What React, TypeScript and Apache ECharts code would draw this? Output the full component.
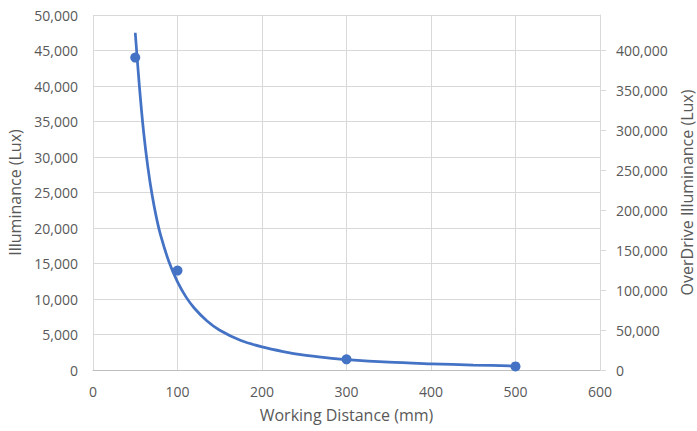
import React, { useEffect, useRef } from "react";
import * as echarts from "echarts";

// Measured points: working distance (mm) vs illuminance (lux)
const pointX = [50, 100, 300, 500];
const pointY = [44000, 14000, 1500, 500];

// Trend curve
const curveX = [50, 55, 60, 65, 70, 75, 80, 90, 100, 110, 120, 135, 150, 175, 200, 225, 250, 275, 300, 350, 400, 450, 500];
const curveY = [47500, 39800, 33400, 28500, 24600, 21500, 19000, 15200, 12400, 10300, 8700, 6900, 5600, 4150, 3250, 2600, 2100, 1750, 1470, 1100, 880, 700, 560];

const xTitle = "Working Distance (mm)";
const yLeftTitle = "Illuminance (Lux)";
const yRightTitle = "OverDrive Illuminance (Lux)";

const BLUE = "#4472C4";
const TEXT = "#595959";
const GRID = "#d9d9d9";
const FONT = "Open Sans";

const fmt = (v: number) => v.toLocaleString("en-US");

export default function App() {
  const ref = useRef<HTMLDivElement>(null);
  useEffect(() => {
    if (!ref.current) return;
    const chart = echarts.init(ref.current, undefined, { renderer: "svg" });
    chart.setOption({
      animation: false,
      backgroundColor: "#ffffff",
      textStyle: { fontFamily: FONT },
      grid: { left: 93, right: 97, top: 15, bottom: 61, containLabel: false, outerBoundsMode: "none" },
      xAxis: {
        type: "value",
        min: 0,
        max: 600,
        interval: 100,
        name: xTitle,
        nameLocation: "middle",
        nameGap: 37,
        nameTextStyle: { color: TEXT, fontSize: 16, fontFamily: FONT },
        axisLine: { show: true, lineStyle: { color: "#bfbfbf", width: 1 } },
        axisTick: { show: false },
        axisLabel: { color: TEXT, fontSize: 14, margin: 14, fontFamily: FONT },
        splitLine: { show: true, lineStyle: { color: GRID, width: 1 } },
      },
      yAxis: [
        {
          type: "value",
          min: 0,
          max: 50000,
          interval: 5000,
          position: "left",
          name: yLeftTitle,
          nameLocation: "middle",
          nameGap: 67,
          nameRotate: 90,
          nameTextStyle: { color: TEXT, fontSize: 16, fontFamily: FONT },
          axisLine: { show: false },
          axisTick: { show: false },
          axisLabel: { color: TEXT, fontSize: 14, margin: 15, formatter: fmt, fontFamily: FONT },
          splitLine: { show: true, lineStyle: { color: GRID, width: 1 } },
        },
        {
          type: "value",
          min: 0,
          max: 443750,
          interval: 50000,
          position: "right",
          name: yRightTitle,
          nameLocation: "middle",
          nameGap: 79,
          nameRotate: 90,
          nameTextStyle: { color: TEXT, fontSize: 16, fontFamily: FONT },
          axisLine: { show: true, lineStyle: { color: GRID, width: 1 } },
          axisTick: { show: true, inside: false, length: 6, lineStyle: { color: GRID } },
          axisLabel: { color: TEXT, fontSize: 14, margin: 16, formatter: fmt, showMaxLabel: false, fontFamily: FONT },
          splitLine: { show: false },
        },
      ],
      series: [
        {
          type: "line",
          yAxisIndex: 0,
          data: curveX.map((x, i) => [x, curveY[i]]),
          smooth: 0.3,
          showSymbol: false,
          lineStyle: { color: BLUE, width: 2.75 },
          z: 2,
        },
        {
          type: "scatter",
          yAxisIndex: 0,
          data: pointX.map((x, i) => [x, pointY[i]]),
          symbol: "circle",
          symbolSize: 10,
          itemStyle: { color: BLUE, opacity: 1 },
          z: 3,
        },
      ],
    });
    return () => chart.dispose();
  }, []);
  return (
    <div
      ref={ref}
      style={{ position: "fixed", left: 0, top: 0, width: 697, height: 431, background: "#fff" }}
    />
  );
}
